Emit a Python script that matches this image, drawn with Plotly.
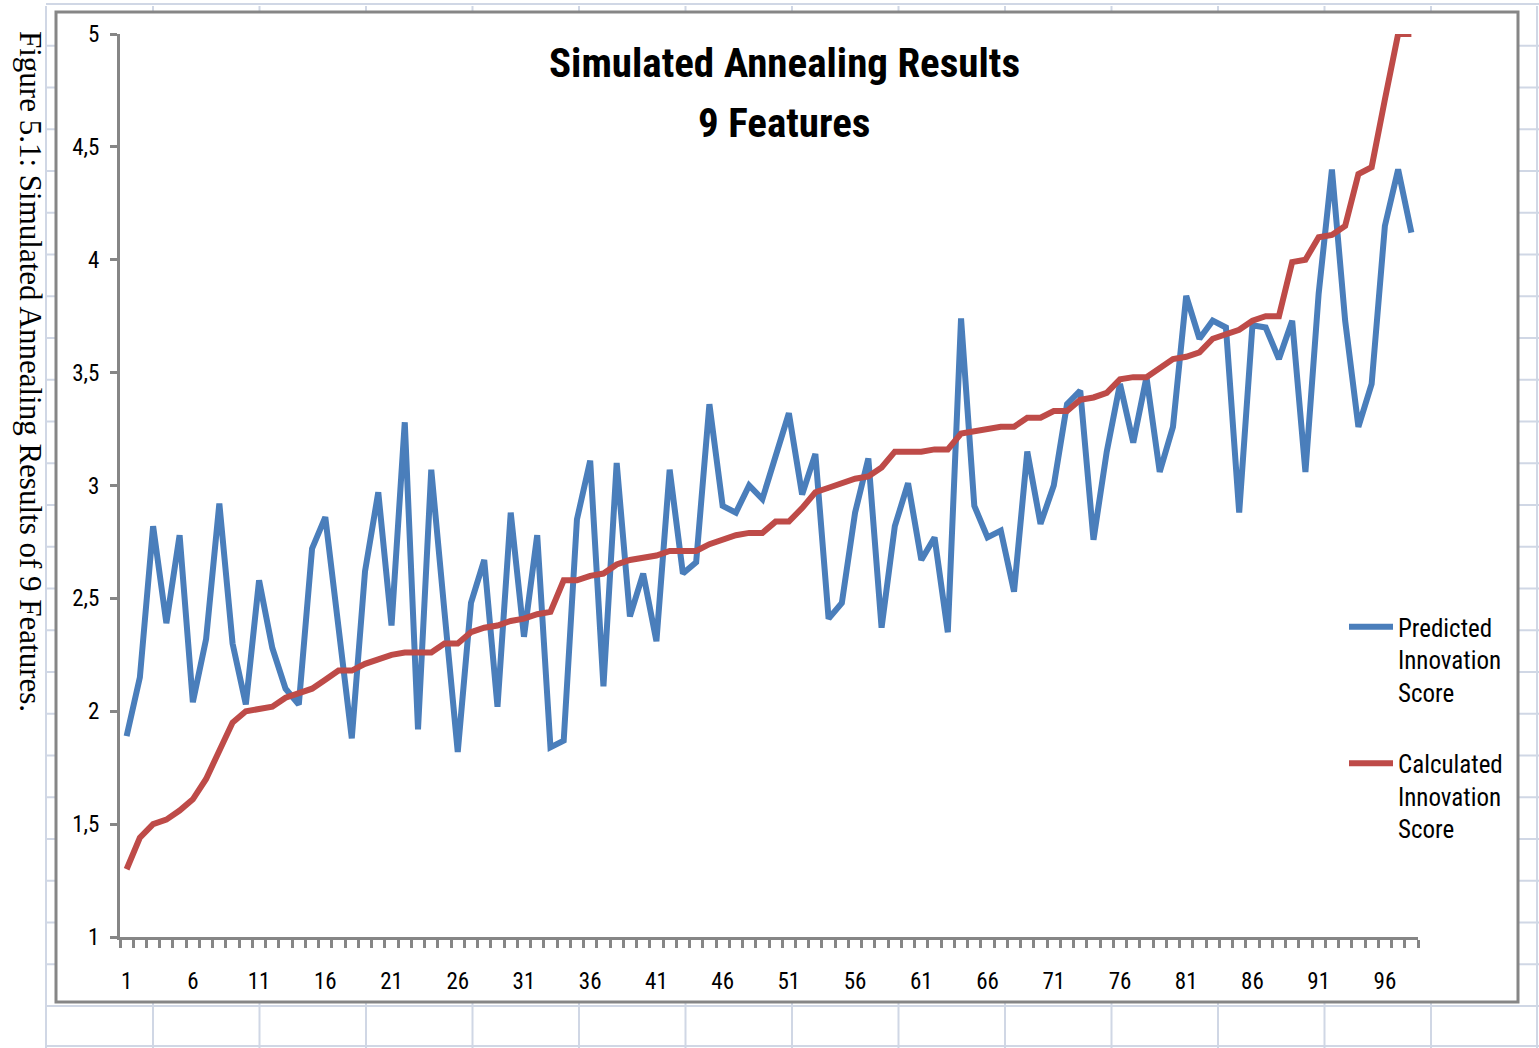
import plotly.graph_objects as go

# ---------------- data ----------------
categories = list(range(1, 99))

predicted = [
    1.89, 2.15, 2.82, 2.39, 2.78, 2.04, 2.32, 2.92, 2.30, 2.03,
    2.58, 2.28, 2.10, 2.03, 2.72, 2.86, 2.37, 1.88, 2.62, 2.97,
    2.38, 3.28, 1.92, 3.07, 2.44, 1.82, 2.48, 2.67, 2.02, 2.88,
    2.33, 2.78, 1.84, 1.87, 2.85, 3.11, 2.11, 3.10, 2.42, 2.61,
    2.31, 3.07, 2.61, 2.66, 3.36, 2.91, 2.88, 3.00, 2.94, 3.13,
    3.32, 2.96, 3.14, 2.41, 2.48, 2.88, 3.12, 2.37, 2.82, 3.01,
    2.67, 2.77, 2.35, 3.74, 2.91, 2.77, 2.80, 2.53, 3.15, 2.83,
    3.00, 3.36, 3.42, 2.76, 3.15, 3.45, 3.19, 3.48, 3.06, 3.26,
    3.84, 3.65, 3.73, 3.70, 2.88, 3.71, 3.70, 3.56, 3.73, 3.06,
    3.85, 4.40, 3.73, 3.26, 3.45, 4.15, 4.40, 4.12,
]

calculated = [
    1.30, 1.44, 1.50, 1.52, 1.56, 1.61, 1.70, 1.82, 1.95, 2.00,
    2.01, 2.02, 2.06, 2.08, 2.10, 2.14, 2.18, 2.18, 2.21, 2.23,
    2.25, 2.26, 2.26, 2.26, 2.30, 2.30, 2.35, 2.37, 2.38, 2.40,
    2.41, 2.43, 2.44, 2.58, 2.58, 2.60, 2.61, 2.65, 2.67, 2.68,
    2.69, 2.71, 2.71, 2.71, 2.74, 2.76, 2.78, 2.79, 2.79, 2.84,
    2.84, 2.90, 2.97, 2.99, 3.01, 3.03, 3.04, 3.08, 3.15, 3.15,
    3.15, 3.16, 3.16, 3.23, 3.24, 3.25, 3.26, 3.26, 3.30, 3.30,
    3.33, 3.33, 3.38, 3.39, 3.41, 3.47, 3.48, 3.48, 3.52, 3.56,
    3.57, 3.59, 3.65, 3.67, 3.69, 3.73, 3.75, 3.75, 3.99, 4.00,
    4.10, 4.11, 4.15, 4.38, 4.41, 4.71, 5.00, 5.00,
]

series_names = ["Predicted<br>Innovation<br>Score", "Calculated<br>Innovation<br>Score"]
y_tick_vals = [1, 1.5, 2, 2.5, 3, 3.5, 4, 4.5, 5]
y_tick_text = ["1", "1,5", "2", "2,5", "3", "3,5", "4", "4,5", "5"]
x_tick_vals = list(range(1, 99, 5))
x_tick_text = [str(v) for v in x_tick_vals]

title_lines = ["Simulated Annealing Results", "9 Features"]
caption = "Figure 5.1: Simulated Annealing Results of 9 Features."

# ---------------- layout helpers ----------------
W, H = 1539, 1048
L, T, PW, PH = 120, 34, 1298, 903


def px_x(p):
    return (p - L) / PW


def px_y(p):
    return (T + PH - p) / PH


NARROW = "Liberation Sans Narrow, Arial Narrow, Roboto Condensed, Liberation Sans, sans-serif"
AXIS_GRAY = "#868686"
GRID_BLUE = "#D0D7E5"

fig = go.Figure()
fig.add_trace(go.Scatter(
    x=categories, y=predicted, mode="lines", name=series_names[0],
    line=dict(color="#4A7EBB", width=6), legendgroup="a",
))
fig.add_trace(go.Scatter(
    x=categories, y=calculated, mode="lines", name=series_names[1],
    line=dict(color="#BE4B48", width=6), legendgroup="b",
))

shapes = []
# spreadsheet grid behind the chart
for k in range(0, 25):
    yy = 1006 - 41.75 * k
    if yy < 0:
        break
    shapes.append(dict(type="line", xref="paper", yref="paper",
                       x0=px_x(46), x1=px_x(1539), y0=px_y(yy), y1=px_y(yy),
                       line=dict(color=GRID_BLUE, width=2), layer="below"))
shapes.append(dict(type="line", xref="paper", yref="paper",
                   x0=px_x(46), x1=px_x(1539), y0=px_y(1046), y1=px_y(1046),
                   line=dict(color=GRID_BLUE, width=2), layer="below"))
vx = [46] + [153 + 106.5 * k for k in range(13)] + [1537]
for xx in vx:
    shapes.append(dict(type="line", xref="paper", yref="paper",
                       x0=px_x(xx), x1=px_x(xx), y0=px_y(6), y1=px_y(1048),
                       line=dict(color=GRID_BLUE, width=2), layer="below"))
# chart frame
shapes.append(dict(type="rect", xref="paper", yref="paper",
                   x0=px_x(56), x1=px_x(1518), y0=px_y(12), y1=px_y(1002),
                   line=dict(color=AXIS_GRAY, width=3), fillcolor="white",
                   layer="below"))

annotations = [
    dict(text="<b>%s</b>" % title_lines[0], xref="paper", yref="paper",
         x=px_x(784), y=px_y(63), xanchor="center", yanchor="middle",
         showarrow=False, font=dict(family=NARROW, size=41, color="black")),
    dict(text="<b>%s</b>" % title_lines[1], xref="paper", yref="paper",
         x=px_x(784), y=px_y(123), xanchor="center", yanchor="middle",
         showarrow=False, font=dict(family=NARROW, size=41, color="black")),
    dict(text=caption, xref="paper", yref="paper", textangle=90,
         x=px_x(30), y=px_y(371), xanchor="center", yanchor="middle",
         showarrow=False,
         font=dict(family="Liberation Serif, Times New Roman, serif", size=31, color="black")),
]

fig.update_layout(
    width=W, height=H,
    margin=dict(l=L, r=W - L - PW, t=T, b=H - T - PH, pad=0),
    paper_bgcolor="white", plot_bgcolor="rgba(0,0,0,0)",
    showlegend=True,
    legend=dict(x=px_x(1344), y=px_y(604), xanchor="left", yanchor="top",
                bgcolor="rgba(0,0,0,0)", valign="top", tracegroupgap=36,
                itemwidth=44,
                font=dict(family=NARROW, size=25, color="black")),
    shapes=shapes, annotations=annotations,
)

fig.update_xaxes(
    range=[0.5, 98.5], showgrid=False, zeroline=False,
    showline=True, linecolor=AXIS_GRAY, linewidth=3,
    tickmode="array", tickvals=x_tick_vals, ticktext=x_tick_text,
    ticks="", ticklabelstandoff=21,
    tickfont=dict(family=NARROW, size=23, color="black"),
    minor=dict(tick0=0.5, dtick=1, ticks="outside", ticklen=8,
               tickwidth=3, tickcolor=AXIS_GRAY, showgrid=False),
)
fig.update_yaxes(
    range=[1, 5], showgrid=False, zeroline=False,
    showline=True, linecolor=AXIS_GRAY, linewidth=3,
    tickmode="array", tickvals=y_tick_vals, ticktext=y_tick_text,
    ticks="outside", ticklen=7, tickwidth=3, tickcolor=AXIS_GRAY,
    ticklabelstandoff=6,
    tickfont=dict(family=NARROW, size=23, color="black"),
)

fig.write_html(
    "out.html",
    config={"displayModeBar": False},
    post_script="document.body.style.margin='0';document.body.style.overflow='hidden';",
)
